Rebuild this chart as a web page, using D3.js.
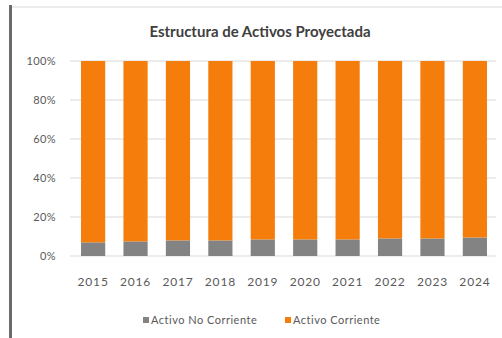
<!DOCTYPE html>
<html>
<head>
<meta charset="utf-8">
<script src="https://cdn.jsdelivr.net/npm/d3@7"></script>
<style>
  html, body { margin: 0; padding: 0; background: #fff; }
  svg { display: block; font-family: Lato, "Open Sans", sans-serif; }
</style>
</head>
<body>
<svg id="chart" width="502" height="338"></svg>
<script>
// Projected asset structure, share of total assets per year (%)
const years = ["2015", "2016", "2017", "2018", "2019", "2020", "2021", "2022", "2023", "2024"];
const activoNoCorriente = [7, 7.5, 8, 8, 8.5, 8.5, 8.5, 9, 9, 9.5];
const activoCorriente = activoNoCorriente.map(v => 100 - v);
const yTicks = [0, 20, 40, 60, 80, 100];
const seriesNames = ["Activo No Corriente", "Activo Corriente"];
const seriesColors = ["#838383", "#F47D0B"];

const svg = d3.select("#chart");
const W = 502, H = 338;
const plot = { left: 70, right: 496, top: 61, bottom: 256 };
const textColor = "#595959";

// Frame: dark left rule and faint top rule
svg.append("rect").attr("x", 9).attr("y", 5).attr("width", 3).attr("height", H - 5).attr("fill", "#6b6b6b");
svg.append("line").attr("x1", 12).attr("x2", W).attr("y1", 7).attr("y2", 7)
  .attr("stroke", "#d9d9d9").attr("stroke-width", 1);

svg.append("text")
  .attr("x", 260).attr("y", 37)
  .attr("text-anchor", "middle")
  .attr("font-size", 15).attr("font-weight", "bold").attr("fill", "#404040")
  .text("Estructura de Activos Proyectada");

const x = d3.scaleBand().domain(years).range([plot.left, 498]).paddingInner(0.43).paddingOuter(0.26);
const y = d3.scaleLinear().domain([0, 100]).range([plot.bottom, plot.top]);

// Gridlines
svg.append("g").selectAll("line").data(yTicks).join("line")
  .attr("x1", plot.left).attr("x2", plot.right)
  .attr("y1", d => y(d)).attr("y2", d => y(d))
  .attr("stroke", "#d9d9d9").attr("stroke-width", 1);

// Y axis labels
const yAxis = d3.axisLeft(y).tickValues(yTicks).tickFormat(d => d + "%").tickSize(0).tickPadding(14);
const gy = svg.append("g").attr("transform", `translate(${plot.left},0)`).call(yAxis);
gy.select(".domain").remove();
gy.selectAll("text").attr("font-size", 11).attr("letter-spacing", 0.4)
  .attr("fill", textColor).attr("font-family", "Lato, 'Open Sans', sans-serif");

// Stacked bars
const rows = years.map((yr, i) => ({ year: yr, nc: activoNoCorriente[i], c: activoCorriente[i] }));
const stack = d3.stack().keys(["nc", "c"])(rows);
svg.append("g").selectAll("g").data(stack).join("g")
  .attr("fill", (d, i) => seriesColors[i])
  .selectAll("rect").data(d => d).join("rect")
  .attr("x", d => x(d.data.year))
  .attr("width", x.bandwidth())
  .attr("y", d => y(d[1]))
  .attr("height", d => y(d[0]) - y(d[1]));

// X axis labels
const xAxis = d3.axisBottom(x).tickSize(0).tickPadding(21);
const gx = svg.append("g").attr("transform", `translate(0,${y(0)})`).call(xAxis);
gx.select(".domain").remove();
gx.selectAll("text").attr("font-size", 12).attr("letter-spacing", 0.8)
  .attr("fill", textColor).attr("font-family", "Lato, 'Open Sans', sans-serif");

// Legend
const legendX = [143, 285];
const lg = svg.append("g").selectAll("g").data(seriesNames).join("g")
  .attr("transform", (d, i) => `translate(${legendX[i]},324)`);
lg.append("rect").attr("x", 0).attr("y", -7).attr("width", 6).attr("height", 6)
  .attr("fill", (d, i) => seriesColors[i]);
lg.append("text").attr("x", 8).attr("y", 0)
  .attr("font-size", 11).attr("letter-spacing", 0.5)
  .attr("fill", textColor)
  .text(d => d);
</script>
</body>
</html>
